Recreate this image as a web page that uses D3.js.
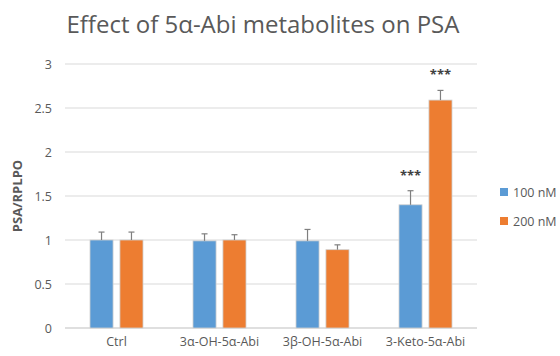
<!DOCTYPE html>
<html>
<head>
<meta charset="utf-8">
<script src="https://cdn.jsdelivr.net/npm/d3@7"></script>
<style>
  body { margin: 0; background: #fff; }
  text { font-family: "Open Sans", "Noto Sans", sans-serif; }
</style>
</head>
<body>
<div id="chart"></div>
<script>
// Data
const categories = ["Ctrl", "3α-OH-5α-Abi", "3β-OH-5α-Abi", "3-Keto-5α-Abi"];
const seriesNames = ["100 nM", "200 nM"];
const values100 = [1.0, 0.99, 0.99, 1.40];
const values200 = [1.0, 1.0, 0.89, 2.59];
const err100 = [0.09, 0.08, 0.13, 0.16];
const err200 = [0.09, 0.06, 0.055, 0.11];
const stars100 = ["", "", "", "***"];
const stars200 = ["", "", "", "***"];
const yTicks = [0, 0.5, 1, 1.5, 2, 2.5, 3];

(function () {
  const W = 560, H = 356;
  const margin = { top: 64, right: 83, bottom: 28, left: 65 };
  const width = W - margin.left - margin.right;
  const height = H - margin.top - margin.bottom;
  const colors = ["#5B9BD5", "#ED7D31"];
  const grey = "#595959";

  const svg = d3.select("#chart").append("svg")
    .attr("width", W).attr("height", H);

  svg.append("text")
    .attr("x", 263).attr("y", 33)
    .attr("text-anchor", "middle")
    .attr("font-size", "24px")
    .attr("fill", grey)
    .text("Effect of 5α-Abi metabolites on PSA");

  const g = svg.append("g")
    .attr("transform", `translate(${margin.left},${margin.top})`);

  const x0 = d3.scaleBand().domain(categories).range([0, width]).paddingInner(0).paddingOuter(0);
  const x1 = d3.scaleBand().domain(seriesNames).range([x0.bandwidth() / 2 - 26.5, x0.bandwidth() / 2 + 26.5]).paddingInner(0.23).paddingOuter(0);
  const y = d3.scaleLinear().domain([0, 3]).range([height, 0]);

  // gridlines
  g.append("g")
    .selectAll("line")
    .data(yTicks)
    .join("line")
    .attr("x1", 0).attr("x2", width)
    .attr("y1", (d) => y(d)).attr("y2", (d) => y(d))
    .attr("stroke", (d) => (d === 0 ? "#bfbfbf" : "#d9d9d9"))
    .attr("stroke-width", 1.2);

  // y axis labels
  const yAxis = g.append("g")
    .call(d3.axisLeft(y).tickValues(yTicks).tickSize(0).tickPadding(13).tickFormat(d3.format("")));
  yAxis.select(".domain").remove();
  yAxis.selectAll("text").attr("font-size", "12.5px").attr("fill", grey)
    .style("font-family", "'Open Sans', sans-serif");

  // x axis labels
  const xAxis = g.append("g")
    .attr("transform", `translate(0,${height})`)
    .call(d3.axisBottom(x0).tickSize(0).tickPadding(9));
  xAxis.select(".domain").remove();
  xAxis.selectAll("text").attr("font-size", "12.5px").attr("fill", grey)
    .style("font-family", "'Open Sans', sans-serif");

  // y title
  svg.append("text")
    .attr("transform", "translate(22,196) rotate(-90)")
    .attr("text-anchor", "middle")
    .attr("font-size", "13px")
    .attr("font-weight", "bold")
    .attr("fill", grey)
    .text("PSA/RPLPO");

  const rows = [];
  categories.forEach((c, i) => {
    rows.push({ cat: c, s: 0, v: values100[i], e: err100[i], star: stars100[i] });
    rows.push({ cat: c, s: 1, v: values200[i], e: err200[i], star: stars200[i] });
  });

  const bx = (d) => x0(d.cat) + x1(seriesNames[d.s]);

  g.selectAll(".bar")
    .data(rows)
    .join("rect")
    .attr("class", "bar")
    .attr("x", bx)
    .attr("y", (d) => y(d.v))
    .attr("width", x1.bandwidth())
    .attr("height", (d) => height - y(d.v))
    .attr("fill", (d) => colors[d.s])
    .attr("stroke", "#d0d0d0")
    .attr("stroke-width", 0.8);

  // error bars (upper only)
  const eb = g.selectAll(".err").data(rows).join("g").attr("class", "err")
    .attr("stroke", "#7f7f7f").attr("stroke-width", 1.2);
  eb.append("line")
    .attr("x1", (d) => bx(d) + x1.bandwidth() / 2)
    .attr("x2", (d) => bx(d) + x1.bandwidth() / 2)
    .attr("y1", (d) => y(d.v)).attr("y2", (d) => y(d.v + d.e));
  eb.append("line")
    .attr("x1", (d) => bx(d) + x1.bandwidth() / 2 - 3)
    .attr("x2", (d) => bx(d) + x1.bandwidth() / 2 + 3)
    .attr("y1", (d) => y(d.v + d.e)).attr("y2", (d) => y(d.v + d.e));

  // significance stars
  g.selectAll(".star")
    .data(rows.filter((d) => d.star))
    .join("text")
    .attr("class", "star")
    .attr("x", (d) => bx(d) + x1.bandwidth() / 2)
    .attr("y", (d) => y(d.v + d.e) - 11)
    .attr("text-anchor", "middle")
    .attr("font-size", "13px")
    .attr("font-weight", "bold")
    .attr("fill", "#404040")
    .text((d) => d.star);

  // legend
  const lg = svg.append("g").attr("transform", "translate(500,188)");
  seriesNames.forEach((s, i) => {
    lg.append("rect")
      .attr("x", 0).attr("y", i * 29)
      .attr("width", 8).attr("height", 8)
      .attr("fill", colors[i]);
    lg.append("text")
      .attr("x", 13).attr("y", i * 29 + 9)
      .attr("font-size", "12.5px")
      .attr("fill", grey)
      .text(s);
  });
})();
</script>
</body>
</html>
